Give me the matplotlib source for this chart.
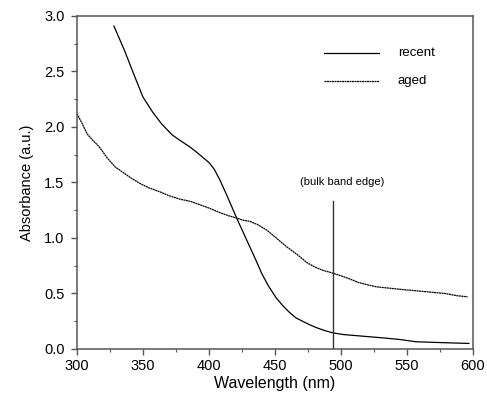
import matplotlib
matplotlib.use("Agg")
import matplotlib.pyplot as plt
from matplotlib.ticker import MultipleLocator

plt.rcParams['font.family'] = ['Liberation Sans', 'DejaVu Sans']

# recent sample (steep edge)
recent_wl = [328, 332, 336, 342.6, 350, 357.6, 364, 372, 378, 385.6, 391, 396, 400, 404, 408,
             413, 417, 421, 426, 431, 436, 440, 445, 451, 456, 461, 466, 471, 476, 482,
             488, 494, 502, 512, 522, 532, 545, 557, 570, 583, 597]
recent_abs = [2.91, 2.80, 2.69, 2.49, 2.27, 2.13, 2.03, 1.93, 1.88, 1.82, 1.77, 1.72, 1.68, 1.62, 1.53,
              1.40, 1.29, 1.18, 1.05, 0.92, 0.79, 0.68, 0.57, 0.46, 0.39, 0.33, 0.28, 0.25, 0.22, 0.19,
              0.165, 0.145, 0.13, 0.12, 0.11, 0.10, 0.085, 0.065, 0.06, 0.055, 0.05]

# aged sample
aged_wl = [300, 304, 307.6, 312, 317, 323, 329, 335, 341, 348, 355, 362, 370, 378, 386, 393,
           400, 408, 415, 421, 426, 431, 437, 444, 451, 459, 467, 474, 480, 486,
           492, 500, 507, 513, 519.7, 527, 535, 543, 552, 561, 570, 579, 588, 596]
aged_abs = [2.12, 2.03, 1.94, 1.88, 1.82, 1.72, 1.64, 1.59, 1.54, 1.49, 1.45, 1.42, 1.38, 1.35, 1.33, 1.30,
            1.27, 1.23, 1.20, 1.18, 1.16, 1.15, 1.12, 1.07, 1.00, 0.92, 0.85, 0.78, 0.74, 0.71,
            0.69, 0.66, 0.63, 0.60, 0.58, 0.56, 0.55, 0.54, 0.53, 0.52, 0.51, 0.50, 0.48, 0.47]

band_edge = 494
band_edge_top = 1.33

fig = plt.figure(figsize=(4.87, 3.96), dpi=100)
ax = fig.add_axes([0.158, 0.1187, 0.813, 0.8409])

ax.plot(recent_wl, recent_abs, color='black', linewidth=0.9)
ax.plot(aged_wl, aged_abs, color='black', linewidth=0.9, linestyle=(0, (1.6, 0.4)))
ax.plot([band_edge, band_edge], [0, band_edge_top], color='#333333', linewidth=1.0)
ax.text(501, 1.50, '(bulk band edge)', fontsize=8, ha='center', va='center')

# legend drawn by hand like the original
ax.plot([487, 529], [2.67, 2.67], color='black', linewidth=0.9)
ax.plot([487, 529], [2.41, 2.41], color='black', linewidth=0.9, linestyle=(0, (1.6, 0.4)))
ax.text(543, 2.67, 'recent', fontsize=9.5, va='center')
ax.text(543, 2.41, 'aged', fontsize=9.5, va='center')

ax.set_xlim(300, 600)
ax.set_ylim(0, 3.0)
ax.xaxis.set_major_locator(MultipleLocator(50))
ax.xaxis.set_minor_locator(MultipleLocator(25))
ax.yaxis.set_major_locator(MultipleLocator(0.5))
ax.yaxis.set_minor_locator(MultipleLocator(0.25))
ax.yaxis.set_major_formatter(matplotlib.ticker.FormatStrFormatter('%.1f'))

for s in ax.spines.values():
    s.set_color('#555555')
    s.set_linewidth(1.1)
ax.tick_params(which='major', direction='out', length=4, width=1, colors='#555555',
               labelcolor='black', labelsize=10.5, top=False, right=False)
ax.tick_params(axis='y', which='major', pad=5)
ax.tick_params(which='minor', direction='out', length=2.5, width=0.8, colors='#555555',
               top=False, right=False)

ax.set_xlabel('Wavelength (nm)', fontsize=11.5, labelpad=2)
ax.set_ylabel('Absorbance (a.u.)', fontsize=10.5, labelpad=7)

fig.savefig('out.png', dpi=100)
